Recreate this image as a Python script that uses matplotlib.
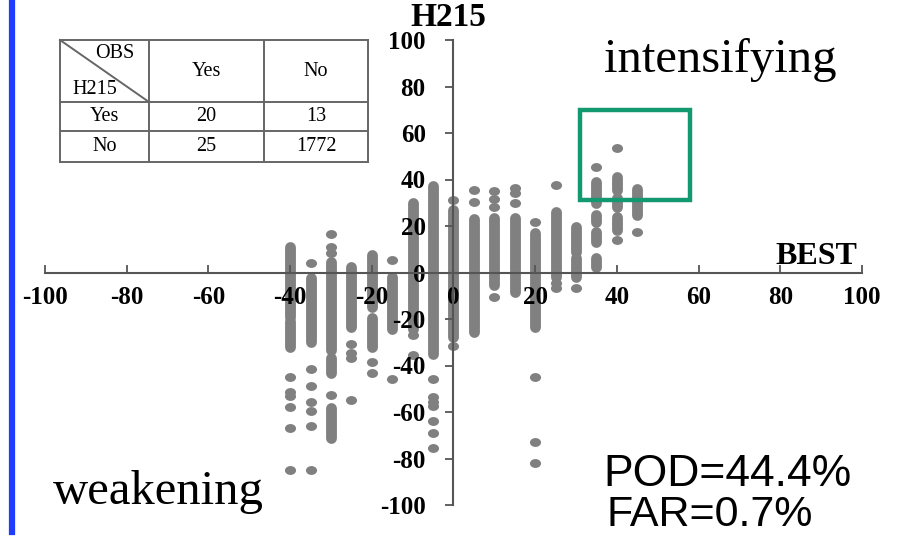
import matplotlib
matplotlib.use("Agg")
import matplotlib.pyplot as plt
from matplotlib.patches import Rectangle
from matplotlib.lines import Line2D
from matplotlib.path import Path
from matplotlib.transforms import Affine2D

# dense vertical runs of points: BEST value, lowest and highest H215 value
run_best = [-40, -40, -35, -30, -30, -30, -25, -20, -20, -15, -10, -5, 0, 5, 10, 15,
            20, 25, 30, 30, 35, 35, 35, 35, 40, 40, 40, 45]
run_low = [-19, -32, -30, -33.3, -43.4, -71.3, -23.3, -15, -32, -24.5, -24.5, -35, -27.6,
           -25.5, -5.4, -8.2, -23.3, -1.8, 9, -1.8, 29.8, 21.8, 13.2, 2.5, 35.5, 28.3, 18.3, 24.7]
run_high = [11, -21, -2.4, 4.6, -36.8, -58.4, 2.5, 7.5, -19.6, -2, 30, 37.2, 26.9,
            22.9, 23.3, 23.3, 16.8, 26.2, 19.7, 6.2, 39, 24.7, 17.5, 6.1, 41, 32, 24, 35.8]

# isolated points
dot_best = [-40, -40, -40, -40, -40, -40,
            -35, -35, -35, -35, -35, -35, -35,
            -30, -30, -30, -30,
            -25, -25, -25, -25,
            -20, -20,
            -15, -15,
            -10, -10,
            -5, -5, -5, -5, -5, -5, -5,
            0, 0,
            5, 5,
            10, 10, 10, 10,
            15, 15, 15,
            20, 20, 20, 20,
            25, 25, 25,
            30,
            35,
            40, 40,
            45]
dot_h215 = [-44.8, -51.3, -53.1, -57.7, -67, -85,
            4.2, -41.6, -48.7, -55.6, -59.4, -66, -85,
            16.5, 11, 8.2, -52.7,
            -30.8, -34.6, -36.8, -54.8,
            -38.6, -43.4,
            5.4, -45.8,
            -27, -35.5,
            -45.8, -53.4, -55.6, -57.4, -63.7, -68.9, -75.6,
            31.2, -31.5,
            35.5, 30.2,
            35.2, 31.5, 28, -10.4,
            36.2, 34, 29.9,
            21.8, -44.8, -72.8, -82.1,
            37.6, -4.6, -6.5,
            -6.5,
            45.5,
            53.4, 14,
            17.3]

ticks = [-100, -80, -60, -40, -20, 0, 20, 40, 60, 80, 100]
tick_labels = ["-100", "-80", "-60", "-40", "-20", "0", "20", "40", "60", "80", "100"]

table_header = ["Yes", "No"]
table_rows = [["Yes", "20", "13"], ["No", "25", "1772"]]

gray = "#808080"
serif = "Liberation Serif"
W, H = 904, 539

fig = plt.figure(figsize=(W / 100, H / 100), dpi=100)
ax = fig.add_axes([45 / W, 34 / H, 817 / W, 465 / H])
ax.set_xlim(-100, 100)
ax.set_ylim(-100, 100)

for side in ["top", "right"]:
    ax.spines[side].set_visible(False)
for side in ["left", "bottom"]:
    ax.spines[side].set_position(("data", 0))
    ax.spines[side].set_color("#555555")
    ax.spines[side].set_linewidth(1.5)

ax.vlines(run_best, run_low, run_high, colors=gray, linewidth=7.8,
          capstyle="round", zorder=1)
ellipse = Path.unit_circle().transformed(Affine2D().scale(1.25, 1.0))
ax.scatter(dot_best, dot_h215, s=64, marker=ellipse, color=gray, linewidths=0, zorder=1)

ax.add_patch(Rectangle((31, 31), 27, 39, fill=False, edgecolor="#12996f",
                       linewidth=3.2, zorder=3))

ax.set_xticks(ticks)
ax.set_xticklabels(tick_labels, fontfamily=serif, fontweight="bold", fontsize=18)
ax.set_yticks(ticks)
ax.set_yticklabels(tick_labels, fontfamily=serif, fontweight="bold", fontsize=18)
ax.tick_params(axis="x", direction="in", length=6, width=1.3, pad=10, colors="#555555",
               labelcolor="black")
ax.tick_params(axis="y", direction="out", length=6, width=1.3, pad=14, colors="#555555",
               labelcolor="black")


def ftext(x, y, s, **kw):
    fig.text(x / W, 1 - y / H, s, ha="center", va="center", **kw)


ftext(448, 18, "H215", fontfamily=serif, fontweight="bold", fontsize=24)
ftext(816, 256, "BEST", fontfamily=serif, fontweight="bold", fontsize=23)
ftext(720, 60, "intensifying", fontfamily=serif, fontsize=35)
ftext(158, 492, "weakening", fontfamily=serif, fontsize=35)
ftext(728, 475, "POD=44.4%", fontfamily="Liberation Sans", fontsize=32)
ftext(710, 515, "FAR=0.7%", fontfamily="Liberation Sans", fontsize=31)

# contingency table drawn in pixel coordinates
tx = fig.add_axes([60 / W, 1 - 162 / H, 308 / W, 122 / H])
tx.set_xlim(60, 368)
tx.set_ylim(162, 40)
tx.axis("off")
col_x = [60, 149, 264, 368]
row_y = [40, 102, 131, 162]
line_kw = dict(color="#666666", linewidth=1.4, clip_on=False)
for x in col_x:
    tx.plot([x, x], [row_y[0], row_y[-1]], **line_kw)
for y in row_y:
    tx.plot([col_x[0], col_x[-1]], [y, y], **line_kw)
tx.plot([col_x[0], col_x[1]], [row_y[0], row_y[1]], **line_kw)

tkw = dict(fontfamily=serif, fontsize=14.5, ha="center", va="center")
tx.text(115, 53, "OBS", **tkw)
tx.text(95, 89, "H215", **tkw)
for j, lab in enumerate(table_header):
    tx.text((col_x[j + 1] + col_x[j + 2]) / 2, 71, lab, **tkw)
for i, row in enumerate(table_rows):
    yc = (row_y[i + 1] + row_y[i + 2]) / 2
    for j, val in enumerate(row):
        tx.text((col_x[j] + col_x[j + 1]) / 2, yc, val, **tkw)

# blue bar at the left edge
fig.add_artist(Line2D([11.5 / W, 11.5 / W], [1 - 3 / H, 1 - 532 / H], color="#1f3cff",
                      linewidth=4.5, transform=fig.transFigure))

fig.savefig("out.png", dpi=100)
